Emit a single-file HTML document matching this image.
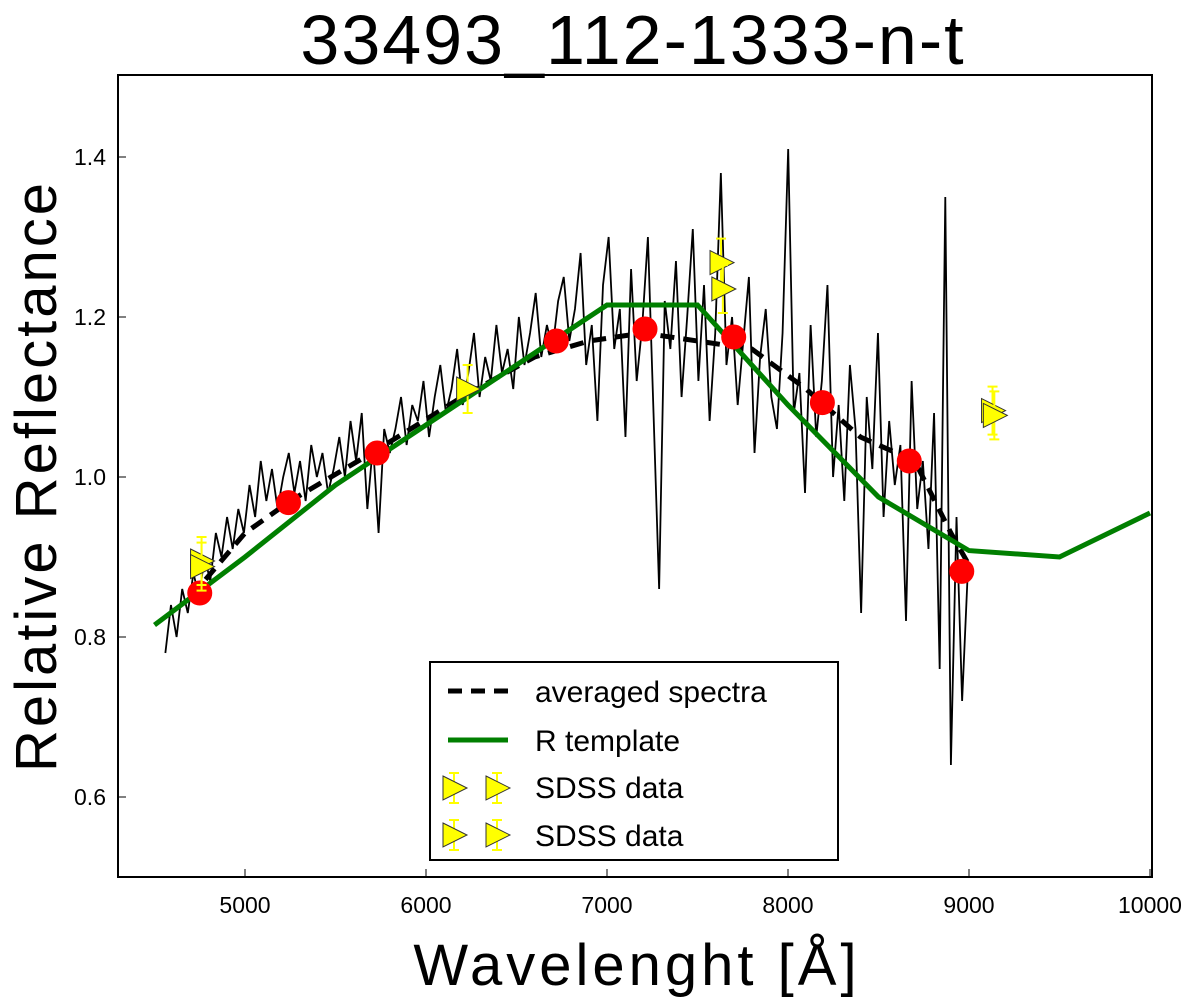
<!DOCTYPE html>
<html><head><meta charset="utf-8"><style>
html,body{margin:0;padding:0;background:#fff;}
svg{display:block;font-family:"Liberation Sans","DejaVu Sans",sans-serif;}
</style></head><body>
<svg id="chart" width="1200" height="1000">
<text x="633" y="64" font-size="70" text-anchor="middle" letter-spacing="2">33493_112-1333-n-t</text>
<text x="637" y="985" font-size="58" text-anchor="middle" letter-spacing="4">Wavelenght [Å]</text>
<text transform="translate(56,476) rotate(-90)" font-size="58" text-anchor="middle" letter-spacing="3">Relative Reflectance</text>
<g id="ticks"></g>
<g id="plot"></g>
<rect x="118" y="75" width="1034" height="802" fill="none" stroke="#000" stroke-width="2"/>
<g id="legend">
<rect x="430" y="662" width="408" height="198" fill="#fff" stroke="#000" stroke-width="2"/>
<line x1="448" y1="691" x2="508" y2="691" stroke="#000" stroke-width="5" stroke-dasharray="14,9"/>
<text x="535" y="702" font-size="30">averaged spectra</text>
<line x1="448" y1="740" x2="508" y2="740" stroke="#007f00" stroke-width="5"/>
<text x="535" y="751" font-size="30">R template</text>
<text x="535" y="798" font-size="30">SDSS data</text>
<text x="535" y="846" font-size="30">SDSS data</text>
</g>
</svg>
<script>
const xTicks=[5000,6000,7000,8000,9000,10000];
const yTicks=[0.6,0.8,1.0,1.2,1.4];
const specStart=4560, specStep=31;
const spectrum=[0.78,0.84,0.80,0.86,0.83,0.88,0.85,0.90,0.87,0.93,0.90,
0.95,0.91,0.96,0.93,0.99,0.95,1.02,0.97,1.01,0.96,
1.00,1.03,0.98,1.02,0.97,1.04,1.00,1.03,0.98,1.01,
1.05,1.00,1.07,1.02,1.08,0.96,1.04,0.93,1.06,1.03,
1.06,1.10,1.04,1.09,1.07,1.12,1.05,1.10,1.14,1.08,
1.11,1.16,1.09,1.13,1.18,1.10,1.15,1.12,1.19,1.13,
1.16,1.11,1.20,1.14,1.18,1.23,1.15,1.19,1.16,1.22,
1.25,1.17,1.21,1.28,1.14,1.19,1.07,1.24,1.30,1.16,
1.21,1.05,1.26,1.12,1.19,1.30,1.08,0.86,1.22,1.16,
1.27,1.10,1.20,1.31,1.12,1.24,1.07,1.18,1.38,1.14,
1.20,1.09,1.17,1.25,1.03,1.15,1.21,1.10,1.06,1.18,
1.41,1.08,1.13,0.98,1.19,1.05,1.12,1.24,1.00,1.09,
0.97,1.14,1.06,0.83,1.10,1.01,1.18,0.95,1.07,0.99,
1.04,0.82,1.12,0.96,1.02,0.91,1.08,0.76,1.35,0.64,
0.95,0.72,0.88];
const avgW=[4700,5000,5250,5700,6200,6600,6900,7200,7500,7800,8100,8400,8700,8900,9000];
const avgR=[0.85,0.93,0.97,1.03,1.10,1.15,1.17,1.18,1.17,1.16,1.11,1.05,1.02,0.93,0.89];
const tplW=[4500,5000,5500,6000,6500,7000,7500,8000,8500,9000,9500,10000];
const tplR=[0.815,0.9,0.99,1.065,1.14,1.215,1.215,1.09,0.975,0.908,0.9,0.955];
const ptW=[4750,5240,5730,6720,7210,7700,8190,8670,8960];
const ptR=[0.855,0.968,1.03,1.17,1.185,1.175,1.093,1.02,0.882];
const sdss1W=[4760,6230,7630,9130];
const sdss1R=[0.895,1.11,1.268,1.083];
const sdss2W=[4760,7640,9140];
const sdss2R=[0.888,1.235,1.077];
const sdssErr=0.03;

const X=v=>245+(v-5000)*0.181;
const Y=v=>477-(v-1.0)*800;
const NS='http://www.w3.org/2000/svg';
function mk(tag,attrs,parent){const e=document.createElementNS(NS,tag);for(const k in attrs)e.setAttribute(k,attrs[k]);parent.appendChild(e);return e;}
const tk=document.getElementById('ticks'), pl=document.getElementById('plot');
xTicks.forEach(v=>{
 const l=mk('line',{x1:X(v),x2:X(v),y1:877,y2:869,stroke:'#000','stroke-width':1},tk);
 
 
 const t=mk('text',{x:X(v),y:913,'font-size':23,'text-anchor':'middle'},tk);
 t.textContent=v;
 
 
});
yTicks.forEach(v=>{
 const l=mk('line',{x1:118,x2:126,y1:Y(v),y2:Y(v),stroke:'#000','stroke-width':1},tk);
 
 
 const t=mk('text',{x:106,y:Y(v)+8,'font-size':23,'text-anchor':'end'},tk);
 t.textContent=v.toFixed(1);
 
 
});
const sp=mk('polyline',{points:spectrum.map((r,i)=>X(specStart+i*specStep)+','+Y(r)).join(' '),fill:'none',stroke:'#000','stroke-width':1.8},pl);


const av=mk('polyline',{points:avgW.map((w,i)=>X(w)+','+Y(avgR[i])).join(' '),fill:'none',stroke:'#000','stroke-width':5,'stroke-dasharray':'14,9'},pl);


const tp=mk('polyline',{points:tplW.map((w,i)=>X(w)+','+Y(tplR[i])).join(' '),fill:'none',stroke:'#007f00','stroke-width':5},pl);


ptW.forEach((w,i)=>{
 const c=mk('circle',{cx:X(w),cy:Y(ptR[i]),r:12,fill:'#f00',stroke:'#f00'},pl);
 
 
});
function tri(cx,cy,parent,eh){
 const g=mk('g',{},parent);
 mk('line',{x1:cx,x2:cx,y1:cy-eh,y2:cy+eh,stroke:'#ffff00','stroke-width':2},g);
 mk('line',{x1:cx-5,x2:cx+5,y1:cy-eh,y2:cy-eh,stroke:'#ffff00','stroke-width':2},g);
 mk('line',{x1:cx-5,x2:cx+5,y1:cy+eh,y2:cy+eh,stroke:'#ffff00','stroke-width':2},g);
 mk('polygon',{points:(cx-11)+','+(cy-12)+' '+(cx+13)+','+cy+' '+(cx-11)+','+(cy+12),fill:'#ffff00',stroke:'#333','stroke-width':1},g);
 return g;
}
sdss1W.forEach((w,i)=>{const g=tri(X(w),Y(sdss1R[i]),pl,sdssErr*800);
 
 });
sdss2W.forEach((w,i)=>{const g=tri(X(w),Y(sdss2R[i]),pl,sdssErr*800);
 
 });
const lg=document.getElementById('legend');
[[454,788],[497,788],[454,835],[497,835]].forEach(p=>{const g=tri(p[0],p[1],lg,15);
 
 });
</script>
</body></html>
